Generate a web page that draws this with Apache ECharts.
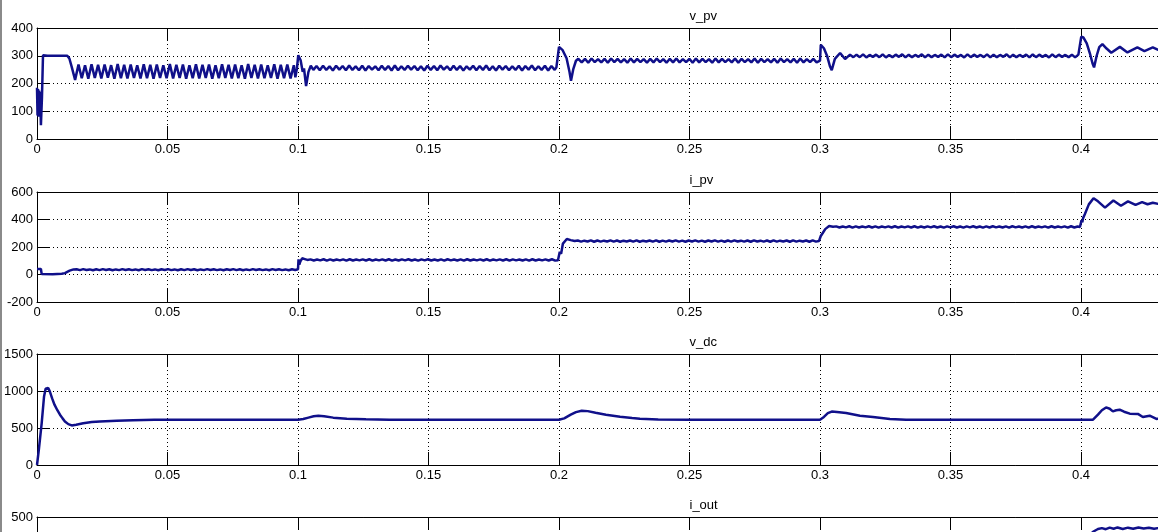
<!DOCTYPE html>
<html><head><meta charset="utf-8">
<script src="https://cdn.jsdelivr.net/npm/echarts/dist/echarts.min.js"></script>
<style>html,body{margin:0;padding:0;background:#fff;overflow:hidden;width:1158px;height:532px}#c{width:1400px;height:680px}</style>
</head><body><div id="c"></div><script>
// ---------- data ----------
const titles = ['v_pv', 'i_pv', 'v_dc', 'i_out'];
const xMin = 0, xMax = 0.5, xStep = 0.05;
const yMins = [0, -200, 0, 0];
const yMaxs = [400, 600, 1500, 500];
const ySteps = [100, 200, 500, 100];
const rippleDt = 0.00125; // half period of the converter ripple (s)

// v_pv
const vpvStart = [[0,185],[0.0002,85],[0.0004,180],[0.0006,80],[0.0008,175],[0.0010,90],[0.0012,170],[0.0015,50],[0.0019,150],[0.0023,302],[0.0040,300],[0.0116,300],[0.0124,290],[0.0133,260],[0.0146,213]];
const vpvR1T0 = 0.0159;
const vpvR1 = [268,219,266,217,269,220,267,218,268,221,266,217,270,219,267,218,268,220,266,218,269,219,267,217,268,220,266,219,270,218,267,220,268,217,266,219,269,218,267,220,268,217,266,219,269,220,267,218,268,219,266,217,270,220,267,218,268,219,266,220,269,217,267,219,268,218,266];
const vpvStep1 = [[0.0990,222],[0.0996,255],[0.1001,302],[0.1010,284],[0.1018,242],[0.1023,254],[0.1031,191],[0.1040,242],[0.1049,264],[0.1059,249]];
const vpvR2T0 = 0.1071;
const vpvR2 = [263,248,264,249,262,247,264,250,263,248,265,249,262,248,264,247,263,250,262,248,264,249,263,247,265,248,262,249,264,250,263,248,262,247,264,249,263,248,265,250,262,248,264,249,263,247,262,250,264,248,263,249,265,248,262,247,264,250,263,248,262,249,264,247,263,250,265,248,262,249,264,247,263,249];
const vpvStep2 = [[0.1990,258],[0.1997,252],[0.2000,332],[0.2014,320],[0.2029,291],[0.2040,243],[0.2046,210],[0.2055,253],[0.2065,282],[0.2074,289]];
const vpvR3T0 = 0.2087;
const vpvR3 = [276,289,275,290,277,288,276,289,275,290,277,289,276,288,275,290,276,289,277,288,275,289,276,290,277,288,275,289,276,290,276,288,277,289,275,290,276,289,277,288,275,290,276,289,277,288,276,290,275,289,277,288,276,290,275,289,277,288,276,289,275,290,277,288,276,289,275,290,276,288,277,289,276];
const vpvStep3 = [[0.2994,283],[0.3000,282],[0.3003,339],[0.3015,327],[0.3028,297],[0.3038,262],[0.3045,248],[0.3057,289],[0.3077,310],[0.3096,288],[0.3115,304],[0.3128,295]];
const vpvR4T0 = 0.3140;
const vpvR4 = [304,295,305,294,303,296,304,295,305,294,303,295,304,296,305,294,304,295,303,296,305,294,304,295,303,296,304,294,305,295,304,296,303,294,305,295,304,296,303,295,305,294,304,295,303,296,305,294,304,295,303,296,304,294,305,295,304,296,303,294,305,295,304,296,303,295,304,294,304];
const vpvStep4 = [[0.3997,298],[0.4001,369],[0.4009,366],[0.4022,345],[0.4034,309],[0.4044,273],[0.4050,258],[0.4060,300],[0.4070,331],[0.4082,342],[0.4098,326],[0.4116,311],[0.4149,332],[0.4178,312],[0.4216,330],[0.4243,317],[0.4275,330],[0.4300,319],[0.4330,328],[0.4360,320]];

// i_pv
const ipvStart = [[0,40],[0.0015,40],[0.0018,3],[0.0060,2],[0.0095,5],[0.0107,10],[0.0125,28],[0.0140,37]];
const ipvR1T0 = 0.0152;
const ipvR1 = [38,32,39,33,37,31,38,32,39,33,38,31,37,32,39,33,38,32,37,31,39,33,38,32,37,31,38,33,39,32,37,31,38,32,39,33,38,31,37,32,39,33,38,32,37,31,38,33,39,32,38,31,37,32,39,33,38,32,37,31,39,33,38,32,37,31,38,33];
const ipvStep1 = [[0.0996,35],[0.1000,38],[0.1002,110],[0.1005,72],[0.1009,95],[0.1016,118],[0.1026,112],[0.1036,106]];
const ipvR2T0 = 0.1048;
const ipvR2 = [110,102,109,103,111,101,110,102,109,103,110,101,111,102,109,103,110,102,111,101,109,103,110,102,111,101,109,102,110,103,111,102,109,101,110,103,111,102,109,102,110,101,111,103,109,102,110,101,111,102,109,103,110,102,111,101,109,103,110,102,111,101,110,103,109,102,110,101,111,102,109,103,110,102,111,101];
const ipvStep2 = [[0.1996,104],[0.2000,106],[0.2003,165],[0.2008,150],[0.2015,225],[0.2030,258],[0.2045,250],[0.2060,243]];
const ipvR3T0 = 0.2072;
const ipvR3 = [247,239,246,240,248,238,247,239,246,240,248,239,247,238,246,240,247,239,248,238,246,240,247,239,248,238,246,239,247,240,248,239,246,238,247,240,248,239,246,238,247,240,248,239,246,238,247,239,248,240,246,239,247,238,248,240,246,239,247,238,248,239,246,240,247,238,248,239,246,240,247,238,248,239];
const ipvStep3 = [[0.2996,243],[0.3000,245],[0.3003,280],[0.3010,300],[0.3020,330],[0.3035,352],[0.3050,348]];
const ipvR4T0 = 0.3062;
const ipvR4 = [350,342,349,343,351,341,350,342,349,343,351,342,350,341,349,343,350,342,351,341,349,343,350,342,351,341,349,342,350,343,351,342,349,341,350,343,351,342,349,341,350,343,351,342,349,341,350,342,351,343,349,342,350,341,351,343,349,342,350,341,351,342,349,343,350,341,351,342,349,343,350,341,351,342,349];
const ipvStep4 = [[0.3996,345],[0.4000,347],[0.4002,395],[0.4005,380],[0.4008,410],[0.4015,440],[0.4030,510],[0.4048,555],[0.4065,532],[0.4092,486],[0.4124,538],[0.4153,500],[0.4180,532],[0.4209,506],[0.4234,527],[0.4255,511],[0.4275,522],[0.4300,512],[0.4330,520],[0.4360,514]];

// v_dc
const vdcPts = [[0,0],[0.0007,206],[0.0018,567],[0.0027,927],[0.0033,1030],[0.0037,1054],[0.0043,1040],[0.0049,995],[0.0058,900],[0.0067,815],[0.0078,740],[0.0088,680],[0.0098,630],[0.0107,589],[0.0120,552],[0.0133,535],[0.0150,545],[0.0177,565],[0.0210,580],[0.0241,589],[0.0305,598],[0.0368,606],[0.0450,610],[0.0600,612],[0.0800,612],[0.1000,612],[0.1020,622],[0.1040,640],[0.1060,658],[0.1078,666],[0.1100,660],[0.1135,640],[0.1187,626],[0.1260,617],[0.1350,612],[0.1600,612],[0.1800,611],[0.2000,612],[0.2020,630],[0.2045,680],[0.2065,715],[0.2087,734],[0.2110,728],[0.2140,705],[0.2180,680],[0.2234,653],[0.2280,635],[0.2310,626],[0.2380,614],[0.2500,611],[0.2800,612],[0.3000,612],[0.3015,650],[0.3030,700],[0.3045,722],[0.3065,715],[0.3100,703],[0.3153,666],[0.3203,649],[0.3268,622],[0.3330,613],[0.3600,611],[0.3900,611],[0.4046,612],[0.4065,680],[0.4080,740],[0.4096,778],[0.4110,760],[0.4122,725],[0.4135,740],[0.4148,747],[0.4165,720],[0.4187,694],[0.4218,690],[0.4237,649],[0.4263,666],[0.4289,622],[0.4320,640],[0.4350,625]];

// i_out
const ioutPts = [[0,0],[0.0030,360],[0.0060,405],[0.0090,400],[0.0120,370],[0.0200,300],[0.1000,300],[0.1050,330],[0.2000,330],[0.2050,360],[0.3000,360],[0.3050,380],[0.4000,380],[0.4030,410],[0.4045,432],[0.4053,438],[0.4065,446],[0.4080,450],[0.4095,445],[0.4110,452],[0.4125,447],[0.4140,453],[0.4160,446],[0.4180,452],[0.4200,447],[0.4220,453],[0.4240,448],[0.4260,452],[0.4280,447],[0.4300,451],[0.4330,448]];

// ---------- build ----------
function ripple(t0, vals) { return vals.map((v, i) => [+(t0 + i * rippleDt).toFixed(5), v]); }
const vpvData = [].concat(vpvStart, ripple(vpvR1T0, vpvR1), vpvStep1, ripple(vpvR2T0, vpvR2), vpvStep2, ripple(vpvR3T0, vpvR3), vpvStep3, ripple(vpvR4T0, vpvR4), vpvStep4);
const ipvData = [].concat(ipvStart, ripple(ipvR1T0, ipvR1), ipvStep1, ripple(ipvR2T0, ipvR2), ipvStep2, ripple(ipvR3T0, ipvR3), ipvStep3, ripple(ipvR4T0, ipvR4), ipvStep4);
const allData = [vpvData, ipvData, vdcPts, ioutPts];

const FONT = "'Liberation Sans Narrow','Liberation Sans',Arial,sans-serif";
const LINE = '#10108a';
const gridTops = [28, 192, 354, 517];
const gridHeights = [111, 110, 111, 111];
const gridLeft = 37, plotWidth = 1305;

const chart = echarts.init(document.getElementById('c'), null, {renderer: 'canvas'});
const grid = [], xAxis = [], yAxis = [], series = [], graphic = [];
graphic.push({type: 'rect', left: 0, top: 0, shape: {x: 0, y: 0, width: 2, height: 680}, style: {fill: '#8a8a8a'}, z: 100});
const dotted = {color: '#000', width: 1, type: [1, 3]};
const fmt = v => String(+v.toFixed(4));
for (let i = 0; i < 4; i++) {
  grid.push({left: gridLeft, top: gridTops[i], width: plotWidth, height: gridHeights[i], show: false});
  xAxis.push({type: 'value', gridIndex: i, min: xMin, max: xMax, interval: xStep, position: 'bottom',
    axisLine: {show: true, onZero: false, lineStyle: {color: '#000', width: 1}},
    axisTick: {show: true, inside: true, length: 13, lineStyle: {color: '#000'}},
    axisLabel: {show: true, color: '#000', fontFamily: FONT, fontSize: 13, margin: 4, formatter: fmt},
    splitLine: {show: true, lineStyle: dotted}});
  xAxis.push({type: 'value', gridIndex: i, min: xMin, max: xMax, interval: xStep, position: 'top',
    axisLine: {show: true, onZero: false, lineStyle: {color: '#000', width: 1}},
    axisTick: {show: true, inside: true, length: 13, lineStyle: {color: '#000'}},
    axisLabel: {show: false}, splitLine: {show: false}});
  yAxis.push({type: 'value', gridIndex: i, min: yMins[i], max: yMaxs[i], interval: ySteps[i], position: 'left',
    axisLine: {show: true, onZero: false, lineStyle: {color: '#000', width: 1}},
    axisTick: {show: true, inside: true, length: 13, lineStyle: {color: '#000'}},
    axisLabel: {show: true, color: '#000', fontFamily: FONT, fontSize: 13, margin: 4, formatter: fmt},
    splitLine: {show: true, lineStyle: dotted}});
  series.push({type: 'line', name: titles[i], xAxisIndex: 2 * i, yAxisIndex: i, data: allData[i],
    showSymbol: false, symbol: 'none', clip: true, lineStyle: {color: LINE, width: 2.5}, z: 3});
  graphic.push({type: 'text', left: gridLeft + plotWidth / 2, top: gridTops[i] - 18,
    style: {text: titles[i], fill: '#000', font: '13px ' + FONT, textAlign: 'center', align: 'center'}});
}
chart.setOption({animation: false, backgroundColor: '#fff', grid, xAxis, yAxis, series, graphic});
</script></body></html>
